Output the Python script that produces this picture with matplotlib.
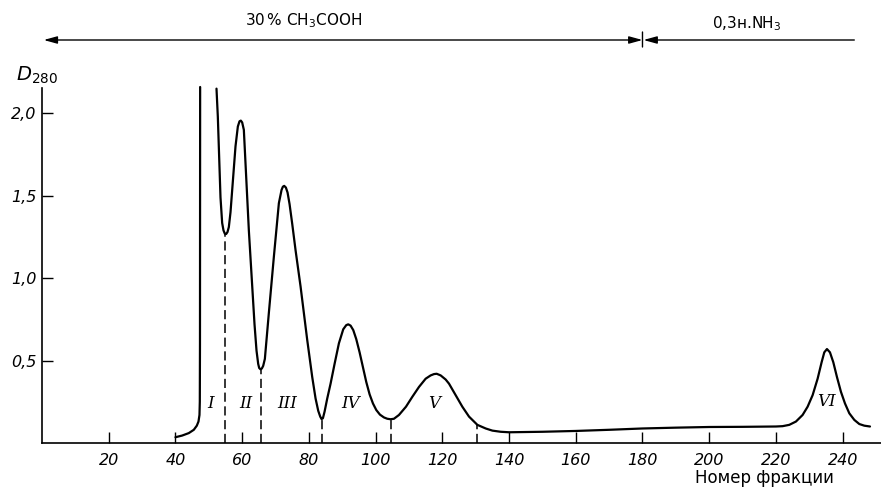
import numpy as np
import matplotlib
matplotlib.use("Agg")
import matplotlib.pyplot as plt
import matplotlib.transforms as mtrans

# ---- data ----
frac = [40, 42, 44, 45.5, 46.4, 46.9, 47.2, 47.3, 47.35, 47.4,
        np.nan,
        52.3, 52.7, 53.0, 53.5, 54.0, 54.4, 54.8, 55.2, 55.6, 56.0, 56.5, 57.0, 58.0, 58.7,
        59.2, 59.6, 60.0, 60.5, 61.0, 62.0, 63.0, 63.7, 64.3, 64.8, 65.1, 65.5, 65.9, 66.3,
        66.8, 68.0, 69.5, 71.0, 71.8, 72.2, 72.6, 73.1, 73.6, 74.2, 75.0, 76.0, 77.5, 79.5,
        81.0, 82.0, 82.8, 83.4, 83.8, 84.2, 84.7, 85.5, 86.5, 87.7, 89.0, 90.3, 91.2, 91.8,
        92.5, 93.3, 94.2, 95.2, 96.2, 97.2, 98.2, 99.2, 100.2, 101.3, 102.5, 103.5, 104.5,
        105.5, 107.0, 109.1, 111.0, 113.0, 115.0, 116.5, 117.5, 118.3, 119.5, 121.0, 122.0,
        124.0, 126.0, 128.0, 130.5, 133.0, 135.0, 137.5, 140.0, 150.0, 160.0, 170.0, 180.0,
        190.0, 200.0, 210.0, 220.0, 222.0, 224.0, 226.0, 228.0, 229.5, 231.0, 232.5, 233.7,
        234.5, 235.3, 236.2, 237.2, 238.3, 239.5, 240.7, 242.0, 243.5, 245.0, 246.5, 248.2]
d280 = [0.035, 0.045, 0.06, 0.08, 0.105, 0.13, 0.17, 0.25, 0.6, 2.16,
        np.nan,
        2.15, 1.98, 1.80, 1.49, 1.335, 1.29, 1.27, 1.268, 1.28, 1.31, 1.40, 1.535, 1.80, 1.92,
        1.952, 1.956, 1.945, 1.90, 1.70, 1.29, 0.95, 0.72, 0.56, 0.48, 0.455, 0.447, 0.452,
        0.468, 0.51, 0.79, 1.13, 1.455, 1.535, 1.555, 1.56, 1.55, 1.52, 1.45, 1.33, 1.17,
        0.95, 0.625, 0.40, 0.27, 0.195, 0.16, 0.145, 0.15, 0.19, 0.27, 0.36, 0.48, 0.605,
        0.69, 0.715, 0.72, 0.712, 0.685, 0.63, 0.55, 0.46, 0.37, 0.295, 0.24, 0.2, 0.172,
        0.155, 0.147, 0.144, 0.147, 0.17, 0.22, 0.28, 0.34, 0.39, 0.41, 0.418, 0.42, 0.41,
        0.385, 0.36, 0.29, 0.22, 0.16, 0.11, 0.088, 0.075, 0.068, 0.065, 0.068, 0.073,
        0.08, 0.088, 0.093, 0.097, 0.098, 0.10, 0.102, 0.11, 0.13, 0.17, 0.22, 0.29, 0.39,
        0.49, 0.55, 0.57, 0.55, 0.49, 0.40, 0.31, 0.24, 0.18, 0.14, 0.115, 0.105, 0.10]

# fraction boundaries (dashed lines) and their curve heights
bounds_x = [55.0, 65.5, 83.8, 104.5, 130.4]
bounds_y = [1.27, 0.447, 0.145, 0.144, 0.11]

# peak labels
peak_names = ["I", "II", "III", "IV", "V", "VI"]
peak_x = [50.6, 61.0, 73.5, 92.5, 117.5, 235.3]
peak_y = [0.24, 0.24, 0.24, 0.24, 0.24, 0.25]

xticks = [20, 40, 60, 80, 100, 120, 140, 160, 180, 200, 220, 240]
xtick_labels = [str(v) for v in xticks]
yticks = [0.5, 1.0, 1.5, 2.0]
ytick_labels = ["0,5", "1,0", "1,5", "2,0"]

switch_x = 180
left_end = 0.5
right_end = 243.5

# ---- figure ----
fig = plt.figure(figsize=(8.81, 4.91), dpi=100)
ax = fig.add_axes([0.0477, 0.0978, 0.9523, 0.723])
ax.set_xlim(0, 251.5)
ax.set_ylim(0, 2.154)

ax.plot(frac, d280, color="black", lw=1.6, clip_on=False,
        solid_capstyle="round", solid_joinstyle="round")
ax.vlines(bounds_x, 0, bounds_y, colors="black", linestyles=(0, (6, 3)), lw=1.1)

for name, px, py in zip(peak_names, peak_x, peak_y):
    ax.text(px, py, name, ha="center", va="center", fontsize=12,
            family="DejaVu Serif", style="italic")

for s in ["top", "right"]:
    ax.spines[s].set_visible(False)
ax.spines["left"].set_linewidth(1.2)
ax.spines["bottom"].set_linewidth(1.2)

ax.set_xticks(xticks)
ax.set_xticklabels(xtick_labels, fontsize=11.5, style="italic")
ax.set_yticks(yticks)
ax.set_yticklabels(ytick_labels, fontsize=11.5, style="italic")
ax.tick_params(axis="both", direction="in", length=8, width=1.0)
ax.tick_params(axis="x", pad=7)
ax.tick_params(axis="y", pad=4)

fig.text(764.5 / 881, 1 - 478 / 491, "Номер фракции", ha="center", va="center",
         fontsize=12)
fig.text(37 / 881, 1 - 75 / 491, r"$\mathit{D}_{\mathit{280}}$", ha="center",
         va="center", fontsize=14)

# eluent arrows
yarr = 1 - 40 / 491
ax.annotate("", xy=(left_end, yarr), xytext=(switch_x, yarr),
            xycoords=("data", "figure fraction"), textcoords=("data", "figure fraction"),
            arrowprops=dict(arrowstyle="<|-|>,head_length=0.8,head_width=0.22",
                            color="black", lw=1.0, shrinkA=0, shrinkB=0,
                            mutation_scale=10))
ax.annotate("", xy=(switch_x + 0.3, yarr), xytext=(right_end, yarr),
            xycoords=("data", "figure fraction"), textcoords=("data", "figure fraction"),
            arrowprops=dict(arrowstyle="-|>,head_length=0.8,head_width=0.22",
                            color="black", lw=1.0, shrinkA=0, shrinkB=0,
                            mutation_scale=10))
ax.annotate("", xy=(switch_x, 1 - 32 / 491), xytext=(switch_x, 1 - 47 / 491),
            xycoords=("data", "figure fraction"), textcoords=("data", "figure fraction"),
            arrowprops=dict(arrowstyle="-", color="black", lw=1.0, shrinkA=0, shrinkB=0))

blend = mtrans.blended_transform_factory(ax.transData, fig.transFigure)
ax.text(78.3, 1 - 21 / 491, r"$\mathit{30\,\%}$ CH$_3$COOH", transform=blend,
        ha="center", va="center", fontsize=11)
ax.text(211.4, 1 - 24 / 491, r"$\mathit{0{,}3}$н.NH$_{\mathit{3}}$", transform=blend,
        ha="center", va="center", fontsize=11)

fig.savefig("out.png", dpi=100)
